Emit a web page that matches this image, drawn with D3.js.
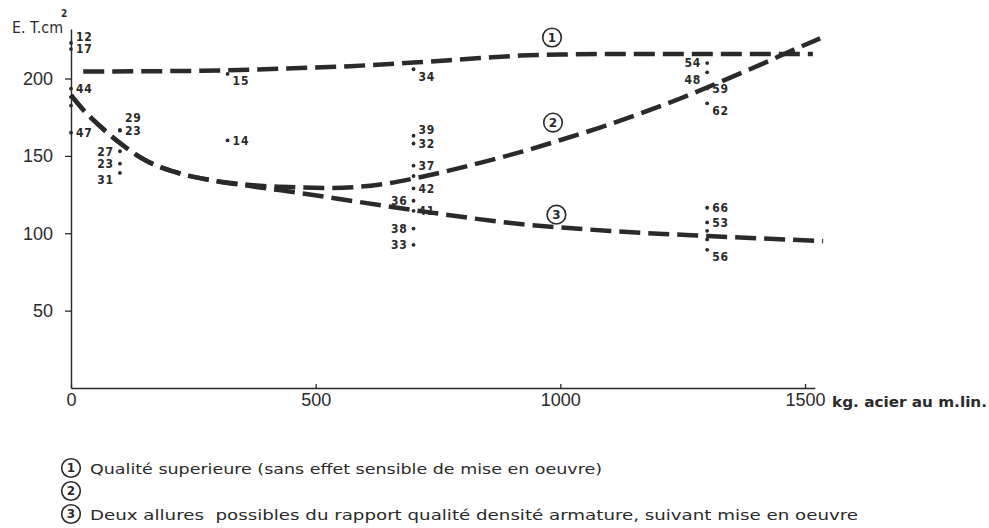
<!DOCTYPE html>
<html><head><meta charset="utf-8">
<script src="https://cdn.jsdelivr.net/npm/d3@7"></script>
<style>body{margin:0;background:#fff}svg{display:block}</style>
</head><body><svg id="c" width="989" height="528"></svg>
<script>
// ---- data ----
const xTicks = [0, 500, 1000, 1500];
const yTicks = [50, 100, 150, 200];
const xUnit = "kg. acier au m.lin.";
const yUnit = "E. T.cm";
const yUnitExp = "2";

const pointKg = [0,0,0,0,0,0, 100,100,100,100,100, 320,320,
  700,700,700,700,700,700,700,700,700,700,
  1300,1300,1300,1300,1300,1300,1300,1300,1300];
const pointET = [223,219,193.5,188,182.5,165, 166.8,166.3,153,145,139, 203,160,
  206,163,158,143.7,137,129,121,114.5,103,92.5,
  210,204,193.5,184,116.5,107,101.6,96,89.3];
const pointLabel = ["12","17","44","","","47", "29","23","27","23","31", "15","14",
  "34","39","32","37","","42","36","41","38","33",
  "54","48","59","62","66","53","","","56"];
const labelSide = ["ur","r","r","","","r", "uur","r","l","l","dl", "dr","r",
  "dr","ur","r","r","","r","l","r","l","l",
  "l","dl","r","dr","r","r","","","dr"];

const curve1Kg = [25, 264, 427, 570, 699, 836, 918, 1000, 1100, 1516];
const curve1ET = [204.5, 205, 206.3, 208, 210.3, 213.2, 214.8, 215.5, 215.8, 215.8];
const curve2Kg = [0, 29, 59, 100, 151, 212, 284, 366, 468, 529, 632, 713, 836, 918, 999, 1081, 1163, 1245, 1326, 1408, 1490, 1531];
const curve2ET = [189.3, 178.4, 169.3, 158.3, 147.3, 139.6, 134.4, 131.2, 129.6, 129.3, 131.5, 136.2, 145.5, 152.4, 160.1, 168.3, 177.3, 187.1, 197.7, 208.8, 220.4, 225.9];
const curve3Kg = [0, 29, 59, 100, 151, 212, 284, 366, 468, 699, 918, 1102, 1302, 1537];
const curve3ET = [189.3, 178.4, 169.3, 158.3, 147.3, 139.6, 134.4, 130.5, 126, 115, 106, 101.5, 98.2, 95];

const markerNum = ["1", "2", "3"];
const markerKg = [983, 985, 992];
const markerET = [226.5, 171.5, 112];

const legendNum = ["1", "2", "3"];
const legendText = ["Qualité superieure (sans effet sensible de mise en oeuvre)", "",
  "Deux allures  possibles du rapport qualité densité armature, suivant mise en oeuvre"];

// ---- chart ----
const svg = d3.select("#c");
const ink = "#2a2a2a";
const x = d3.scaleLinear().domain([0, 1520]).range([71, 814.8]);
const y = d3.scaleLinear().domain([0, 232]).range([388, 29]);

const gx = svg.append("g").attr("transform", `translate(0,${y(0)})`)
  .call(d3.axisBottom(x).tickValues(xTicks).tickFormat(d3.format("d")).tickSize(-4).tickSizeOuter(0).tickPadding(5));
const gy = svg.append("g").attr("transform", `translate(${x(0)},0)`)
  .call(d3.axisLeft(y).tickValues(yTicks).tickSize(6).tickSizeOuter(0).tickPadding(12));
[gx, gy].forEach(g => {
  g.select(".domain").attr("stroke", ink).attr("stroke-width", 1.4);
  g.selectAll(".tick line").attr("stroke", ink).attr("stroke-width", 1.3);
  g.selectAll(".tick text").attr("fill", ink).attr("font-family", "Liberation Sans, Arial, sans-serif").attr("font-size", 18);
});

svg.append("text").attr("x", 832).attr("y", 407).attr("fill", ink)
  .attr("font-family", "DejaVu Sans Condensed, DejaVu Sans, sans-serif").attr("font-weight", "bold")
  .attr("font-size", 14).attr("textLength", 155).attr("lengthAdjust", "spacingAndGlyphs").text(xUnit);
svg.append("text").attr("x", 12).attr("y", 33).attr("fill", ink)
  .attr("font-family", "DejaVu Sans Condensed, DejaVu Sans, sans-serif")
  .attr("font-size", 16).attr("textLength", 51).attr("lengthAdjust", "spacingAndGlyphs")
  .attr("xml:space", "preserve").text(yUnit);
svg.append("text").attr("x", 61).attr("y", 17).attr("fill", ink)
  .attr("font-family", "DejaVu Sans Condensed, DejaVu Sans, sans-serif").attr("font-weight", "bold")
  .attr("font-size", 10).text(yUnitExp);

// curves
const line = d3.line().x(d => x(d[0])).y(d => y(d[1])).curve(d3.curveMonotoneX);
[[curve1Kg, curve1ET], [curve2Kg, curve2ET], [curve3Kg, curve3ET]].forEach(([ks, es]) => {
  svg.append("path").datum(ks.map((k, i) => [k, es[i]]))
    .attr("d", line).attr("fill", "none").attr("stroke", ink)
    .attr("stroke-width", 4.5).attr("stroke-dasharray", "21,8");
});

// points
const pts = pointKg.map((k, i) => ({k, e: pointET[i], l: pointLabel[i], s: labelSide[i]}));
svg.append("g").selectAll("circle").data(pts).join("circle")
  .attr("cx", d => x(d.k)).attr("cy", d => y(d.e)).attr("r", 1.9).attr("fill", ink);
svg.append("g").selectAll("text").data(pts.filter(d => d.l)).join("text")
  .attr("x", d => x(d.k) + (d.s.includes("l") ? -6 : 5))
  .attr("y", d => y(d.e) - 6 * (d.s.split("u").length - 1) + (d.s.includes("d") ? 7 : 0))
  .attr("dy", "0.36em")
  .attr("text-anchor", d => d.s.includes("l") ? "end" : "start")
  .attr("fill", ink).attr("font-family", "DejaVu Sans Condensed, DejaVu Sans, sans-serif")
  .attr("font-weight", "bold").attr("font-size", 12).attr("letter-spacing", 0.8)
  .text(d => d.l);

// circled numbers
function circled(g, cx, cy, t) {
  g.append("circle").attr("cx", cx).attr("cy", cy).attr("r", 9.3)
    .attr("fill", "none").attr("stroke", ink).attr("stroke-width", 1.6);
  g.append("text").attr("x", cx).attr("y", cy).attr("dy", "0.36em").attr("text-anchor", "middle")
    .attr("fill", ink).attr("font-family", "DejaVu Sans, sans-serif").attr("font-weight", "bold")
    .attr("font-size", 12).text(t);
}
const mg = svg.append("g");
markerNum.forEach((t, i) => circled(mg, x(markerKg[i]), y(markerET[i]), t));

const lg = svg.append("g");
const legY = [468, 491, 514];
const legLen = [512, 0, 768];
legendNum.forEach((t, i) => {
  circled(lg, 71, legY[i], t);
  if (legendText[i]) {
    lg.append("text").attr("x", 90).attr("y", legY[i] + 6).attr("fill", ink)
      .attr("font-family", "DejaVu Sans Condensed, DejaVu Sans, sans-serif")
      .attr("font-size", 14).attr("textLength", legLen[i]).attr("lengthAdjust", "spacingAndGlyphs")
      .attr("xml:space", "preserve").text(legendText[i]);
  }
});
</script></body></html>
